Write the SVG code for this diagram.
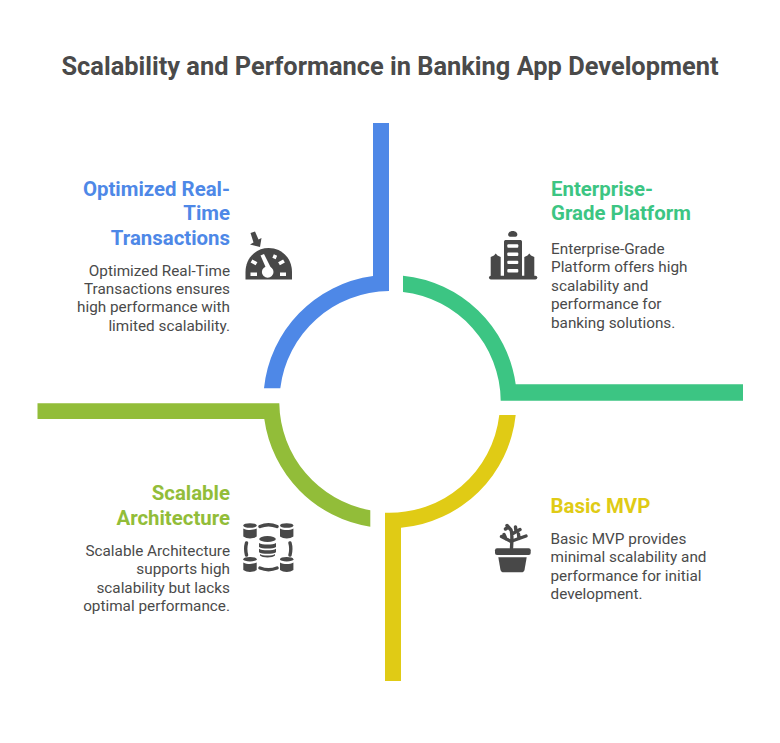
<svg xmlns="http://www.w3.org/2000/svg" width="780" height="743" viewBox="0 0 780 743">
<style>
text{font-family:Roboto,"Liberation Sans",sans-serif}
.t{font-size:25.4px;font-weight:700;fill:#4a4a4a}
.h{font-size:20.4px;font-weight:700}
.b{font-size:15.3px;fill:#4a4a4a}
.e{text-anchor:end}
.i{fill:#484848}
.il{fill:none;stroke:#484848}
.w{fill:#fff}
</style>
<rect width="780" height="743" fill="#fff"/>
<text class="t" x="390" y="75" text-anchor="middle">Scalability and Performance in Banking App Development</text>
<g id="connectors">
<path id="arc-blue" fill="#4e88e7" d="M373 123H389V291A110.5 110.5 0 0 0 280.3 388.3H264A126.5 126.5 0 0 1 373 276Z"/>
<path id="arc-green" fill="#3cc583" d="M403 275.7A126.5 126.5 0 0 1 515.7 384.3H743V400.7H500.7A110.5 110.5 0 0 0 403 292Z"/>
<path id="arc-yellow" fill="#e0cb15" d="M515.7 415A126.5 126.5 0 0 1 401 527.7V681H385V512.7A110.5 110.5 0 0 0 499.3 415Z"/>
<path id="arc-lime" fill="#92bd39" d="M37.500 403.3H279.3A110.5 110.5 0 0 0 370.3 510.3V526.7A126.5 126.5 0 0 1 264.3 419H37.500Z"/>
</g>
<g id="node-realtime">
<text class="h e" fill="#4e88e7" x="230" y="196">Optimized Real-</text>
<text class="h e" fill="#4e88e7" x="230" y="220">Time</text>
<text class="h e" fill="#4e88e7" x="230" y="244.500">Transactions</text>
<text class="b e" x="230" y="276">Optimized Real-Time</text>
<text class="b e" x="230" y="294">Transactions ensures</text>
<text class="b e" x="230" y="312">high performance with</text>
<text class="b e" x="230" y="331">limited scalability.</text>
<g id="icon-gauge">
<path class="i" d="M245.500 279.500V272C245.500 258 256 248 268.700 248C281.500 248 292 258 292 272V279.500Z"/>
<path class="i" d="M250.500 233L255 231.500L258.500 239.500L261.500 238L260 247L250 244.500L253.500 242.500Z"/>
<path class="w" d="M260.500 255.500L264 254L271 268H266Z"/>
<circle class="w" cx="267.700" cy="272" r="5.800"/>
<path stroke="#fff" stroke-width="3.600" fill="none" d="M275.500 255L274 258.500M251.500 261L256.500 263.800M284 261L279 263.800M250.500 274.300H257M280 274.300H286"/>
</g>
</g>
<g id="node-enterprise">
<text class="h" fill="#3cc583" x="551" y="196">Enterprise-</text>
<text class="h" fill="#3cc583" x="551" y="220">Grade Platform</text>
<text class="b" x="551" y="254">Enterprise-Grade</text>
<text class="b" x="551" y="272">Platform offers high</text>
<text class="b" x="551" y="291">scalability and</text>
<text class="b" x="551" y="309">performance for</text>
<text class="b" x="551" y="328">banking solutions.</text>
<g id="icon-building">
<path class="i" d="M509 232.500C510.500 230.500 515 230.500 516.500 232.500C518 234 517.500 236.700 515.500 236.700H510C508 236.700 507.500 234 509 232.500Z"/>
<path class="i" d="M504 241.500C504 240.500 505 240 506 240H520C521 240 522 240.500 522 241.500V276H504Z"/>
<path class="i" d="M490.700 257L494 255.500L495.700 253.500L497.500 255.500L500.700 257V276H490.700Z"/>
<path class="i" d="M524.300 257L527.500 255.500L529.300 253.500L531 255.500L534.300 257V276H524.300Z"/>
<rect class="i" x="489" y="275.700" width="48.300" height="3.800" rx="1.900"/>
<g class="w"><rect x="507.300" y="244.300" width="11" height="3.400" rx="1"/><rect x="507.300" y="252.500" width="11" height="3.400" rx="1"/><rect x="507.300" y="260.700" width="11" height="3.400" rx="1"/><rect x="507.300" y="269" width="11" height="3.400" rx="1"/></g>
</g>
</g>
<g id="node-scalable">
<text class="h e" fill="#92bd39" x="230" y="500">Scalable</text>
<text class="h e" fill="#92bd39" x="230" y="524.500">Architecture</text>
<text class="b e" x="230" y="556">Scalable Architecture</text>
<text class="b e" x="230" y="574">supports high</text>
<text class="b e" x="230" y="593">scalability but lacks</text>
<text class="b e" x="230" y="611">optimal performance.</text>
<g id="icon-db">
<g class="i">
<ellipse cx="250" cy="525.500" rx="6.700" ry="2.300"/><path d="M243.300 528.500C247 530.500 253 530.500 256.700 528.500V536.500C253 539 247 539 243.300 536.500Z"/>
<ellipse cx="286.700" cy="525.500" rx="6.700" ry="2.300"/><path d="M280 528.500C283.500 530.500 290 530.500 293.400 528.500V536.500C290 539 283.500 539 280 536.500Z"/>
<ellipse cx="250" cy="559.200" rx="6.700" ry="2.300"/><path d="M243.300 562.500C247 564.500 253 564.500 256.700 562.500V570C253 572.500 247 572.500 243.300 570Z"/>
<ellipse cx="286.700" cy="559.200" rx="6.700" ry="2.300"/><path d="M280 562.500C283.500 564.500 290 564.500 293.400 562.500V570C290 572.500 283.500 572.500 280 570Z"/>
<ellipse cx="267.500" cy="539" rx="8.300" ry="3"/>
<path d="M259 543C262 545 273 545 276 543V547C273 549 262 549 259 547Z"/>
<path d="M259 548.800C262 550.800 273 550.800 276 548.800V552.300C273 554.300 262 554.300 259 552.300Z"/>
<path d="M260 554C262 556 273 556 275 554V555.500C273 558 262 558 260 555.500Z"/>
</g>
<path class="il" stroke-width="3.400" stroke-linecap="round" d="M260 526.500C265 524.500 272 524.500 277 526.500M260 568C265 570 272 570 277 568M246.500 543C245.500 546.500 245.500 551 246.500 555M290 543C291 546.500 291 551 290 555"/>
</g>
</g>
<g id="node-mvp">
<text class="h" fill="#e0cb15" x="550.500" y="513">Basic MVP</text>
<text class="b" x="550.500" y="544">Basic MVP provides</text>
<text class="b" x="550.500" y="562">minimal scalability and</text>
<text class="b" x="550.500" y="581">performance for initial</text>
<text class="b" x="550.500" y="599">development.</text>
<g id="icon-plant">
<rect class="i" x="495" y="548.300" width="35.700" height="6.700" rx="2"/>
<path class="i" d="M498.300 557.300H526.700L524.500 570C524 571.500 523 572.300 521.500 572.300H503.500C502 572.300 501 571.500 500.500 570Z"/>
<path class="il" stroke-width="3.400" stroke-linecap="round" stroke-linejoin="round" d="M511.500 548C512 540 512.500 534 511 530L507 525.500M512 542L501.500 536.500M512 541L526 536M512 534L520 529.500M506 539L504 534.500M519 538.500L518.500 534M508.500 527L505.500 529M516 531.500L515.500 527"/>
</g>
</g>
</svg>
